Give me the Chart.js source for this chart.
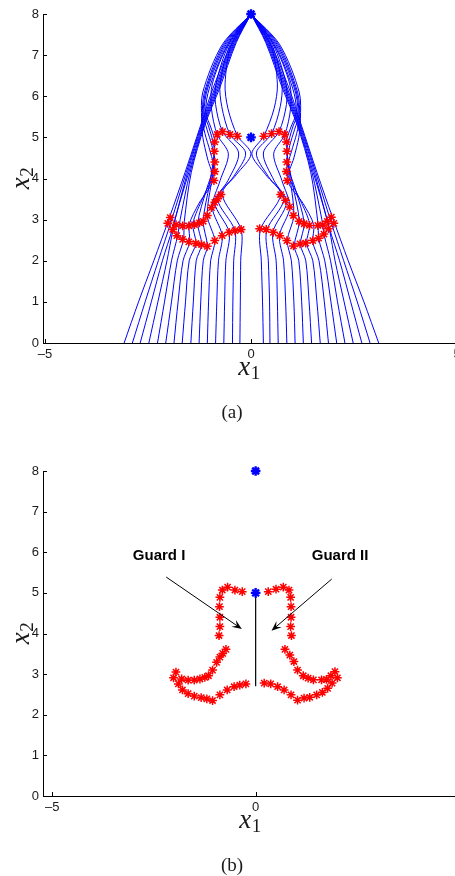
<!DOCTYPE html>
<html>
<head>
<meta charset="utf-8">
<script src="https://cdn.jsdelivr.net/npm/chart.js@4.4.1/dist/chart.umd.min.js"></script>
<style>
  html, body { margin: 0; padding: 0; background: #fff; overflow: hidden; width: 455px; height: 876px; }
  canvas { position: absolute; left: 0; }
  #chartA { top: 0; }
  #chartB { top: 440px; }
</style>
</head>
<body>
<canvas id="chartA" width="470" height="440"></canvas>
<canvas id="chartB" width="470" height="436"></canvas>
<script>
// axis ticks
const xTicks = [-5, 0, 5];
const yTicks = [0, 1, 2, 3, 4, 5, 6, 7, 8];

// blue trajectories, left half, outer -> inner, [x1, x2]
const leftPaths = [
  [[-3.08,0],[-2.73,1],[-2.36,2],[-1.98,3.05],[-1.60,4.15],[-1.22,5.3],[-0.92,6.2],[-0.46,7.3],[0,8]],
  [[-2.88,0],[-2.57,1],[-2.25,2],[-1.94,2.95],[-1.57,4.15],[-1.20,5.3],[-0.88,6.2],[-0.44,7.3],[0,8]],
  [[-2.69,0],[-2.42,1],[-2.15,2],[-1.90,2.8],[-1.54,4.15],[-1.18,5.3],[-0.85,6.2],[-0.42,7.3],[0,8]],
  [[-2.48,0],[-2.26,1],[-2.04,2],[-1.90,2.73],[-1.82,3.1],[-1.51,4.15],[-1.16,5.3],[-0.82,6.2],[-0.40,7.3],[0,8]],
  [[-2.27,0],[-2.10,1],[-1.93,2],[-1.78,2.61],[-1.72,3.0],[-1.48,4.15],[-1.14,5.3],[-0.79,6.2],[-0.38,7.3],[0,8]],
  [[-2.07,0],[-1.93,1],[-1.79,2],[-1.64,2.51],[-1.62,2.95],[-1.45,4.15],[-1.12,5.3],[-0.76,6.2],[-0.36,7.3],[0,8]],
  [[-1.87,0],[-1.77,1],[-1.65,2],[-1.49,2.45],[-1.50,2.88],[-1.26,3.4],[-0.93,3.95],[-1.06,4.5],[-1.17,5.0],[-1.20,5.45],[-1.17,6.1],[-0.70,7.25],[0,8]],
  [[-1.67,0],[-1.59,1],[-1.50,2],[-1.34,2.42],[-1.41,2.90],[-1.16,3.55],[-0.89,4.17],[-0.99,4.65],[-1.12,5.1],[-1.18,5.5],[-1.13,6.1],[-0.67,7.25],[0,8]],
  [[-1.46,0],[-1.40,1],[-1.33,2],[-1.20,2.40],[-1.29,2.92],[-1.09,3.7],[-0.88,4.40],[-0.95,4.8],[-1.07,5.2],[-1.16,5.55],[-1.09,6.15],[-0.64,7.25],[0,8]],
  [[-1.26,0],[-1.22,1],[-1.16,2],[-1.06,2.36],[-1.16,2.96],[-1.01,3.85],[-0.89,4.66],[-0.95,5.0],[-1.04,5.3],[-1.14,5.6],[-1.05,6.2],[-0.61,7.25],[0,8]],
  [[-1.06,0],[-1.03,1],[-0.98,2],[-0.88,2.49],[-1.06,3.10],[-0.95,4.0],[-0.88,4.89],[-0.96,5.2],[-1.10,5.62],[-1.01,6.2],[-0.58,7.25],[0,8]],
  [[-0.86,0],[-0.83,1],[-0.79,2],[-0.70,2.61],[-0.94,3.30],[-0.75,3.95],[-0.55,4.6],[-0.82,5.07],[-0.96,5.7],[-0.94,6.3],[-0.56,7.25],[0,8]],
  [[-0.66,0],[-0.64,1],[-0.61,2],[-0.53,2.69],[-0.88,3.42],[-0.56,3.95],[-0.30,4.62],[-0.69,5.14],[-0.86,5.8],[-0.85,6.3],[-0.54,7.25],[0,8]],
  [[-0.45,0],[-0.44,1],[-0.42,2],[-0.39,2.73],[-0.81,3.51],[-0.42,4.05],[-0.13,4.62],[-0.51,5.07],[-0.71,5.75],[-0.75,6.3],[-0.51,7.25],[0,8]],
  [[-0.27,0],[-0.26,1],[-0.25,2],[-0.24,2.76],[-0.70,3.62],[-0.35,4.1],[0.0,4.6],[-0.33,5.04],[-0.56,5.7],[-0.63,6.3],[-0.48,7.25],[0,8]]
];

// blue trajectories, right half, outer -> inner
const rightPaths = [
  [[3.10,0],[2.74,1],[2.36,2],[1.98,3.05],[1.60,4.15],[1.22,5.3],[0.92,6.2],[0.46,7.3],[0,8]],
  [[2.89,0],[2.58,1],[2.25,2],[1.94,2.95],[1.57,4.15],[1.20,5.3],[0.88,6.2],[0.44,7.3],[0,8]],
  [[2.69,0],[2.42,1],[2.15,2],[1.90,2.8],[1.54,4.15],[1.18,5.3],[0.85,6.2],[0.42,7.3],[0,8]],
  [[2.48,0],[2.26,1],[2.04,2],[1.91,2.73],[1.82,3.1],[1.51,4.15],[1.16,5.3],[0.82,6.2],[0.40,7.3],[0,8]],
  [[2.28,0],[2.10,1],[1.93,2],[1.78,2.61],[1.72,3.0],[1.48,4.15],[1.14,5.3],[0.79,6.2],[0.38,7.3],[0,8]],
  [[2.08,0],[1.94,1],[1.79,2],[1.65,2.51],[1.62,2.95],[1.45,4.15],[1.12,5.3],[0.76,6.2],[0.36,7.3],[0,8]],
  [[1.88,0],[1.78,1],[1.65,2],[1.50,2.45],[1.52,2.88],[1.26,3.4],[0.89,3.95],[1.04,4.5],[1.16,5.0],[1.20,5.45],[1.17,6.1],[0.70,7.25],[0,8]],
  [[1.68,0],[1.60,1],[1.50,2],[1.35,2.42],[1.42,2.90],[1.16,3.55],[0.87,4.17],[0.98,4.65],[1.11,5.1],[1.18,5.5],[1.13,6.1],[0.67,7.25],[0,8]],
  [[1.47,0],[1.41,1],[1.33,2],[1.20,2.40],[1.29,2.92],[1.09,3.7],[0.87,4.40],[0.94,4.8],[1.06,5.2],[1.16,5.55],[1.09,6.15],[0.64,7.25],[0,8]],
  [[1.27,0],[1.23,1],[1.16,2],[1.05,2.36],[1.17,2.96],[1.01,3.85],[0.87,4.66],[0.94,5.0],[1.03,5.3],[1.14,5.6],[1.05,6.2],[0.61,7.25],[0,8]],
  [[1.07,0],[1.04,1],[0.98,2],[0.88,2.49],[1.04,3.10],[0.95,4.0],[0.86,4.89],[0.95,5.2],[1.10,5.62],[1.01,6.2],[0.58,7.25],[0,8]],
  [[0.87,0],[0.84,1],[0.79,2],[0.69,2.61],[0.94,3.30],[0.75,3.95],[0.55,4.6],[0.82,5.07],[0.96,5.7],[0.94,6.3],[0.56,7.25],[0,8]],
  [[0.66,0],[0.64,1],[0.61,2],[0.53,2.69],[0.86,3.42],[0.56,3.95],[0.30,4.62],[0.68,5.14],[0.86,5.8],[0.85,6.3],[0.54,7.25],[0,8]],
  [[0.46,0],[0.45,1],[0.42,2],[0.38,2.73],[0.80,3.51],[0.42,4.05],[0.13,4.62],[0.50,5.09],[0.71,5.75],[0.75,6.3],[0.51,7.25],[0,8]],
  [[0.30,0],[0.28,1],[0.25,2],[0.23,2.76],[0.72,3.61],[0.35,4.1],[0.02,4.6],[0.31,5.03],[0.56,5.7],[0.64,6.3],[0.48,7.25],[0,8]]
];

// red star markers (same in both panels)
const redStarX = [
  -0.82,-0.69,-0.51,-0.33, -0.88,-0.89,-0.88,-0.88,-0.90,
  -0.73,-0.81,-0.88,-0.96,-1.06,-1.16,-1.25,-1.37,-1.51,-1.66,-1.82,-2.02,-1.96,
  -1.90,-1.80,-1.66,-1.51,-1.34,-1.20,-1.06,-0.88,-0.70,-0.53,-0.39,-0.24,
  0.31,0.50,0.68,0.82, 0.86,0.87,0.87,0.86,0.88,
  0.72,0.84,0.94,1.03,1.17,1.29,1.42,1.62,1.74,1.85,1.95,2.01,
  1.88,1.77,1.64,1.50,1.33,1.19,1.03,0.87,0.70,0.54,0.37,0.21
];
const redStarY = [
  5.07,5.14,5.07,5.03, 4.89,4.66,4.40,4.17,3.95,
  3.61,3.51,3.42,3.29,3.10,2.96,2.92,2.88,2.85,2.85,2.88,2.91,3.05,
  2.76,2.61,2.52,2.46,2.42,2.39,2.35,2.49,2.61,2.69,2.73,2.76,
  5.03,5.09,5.14,5.07, 4.89,4.66,4.40,4.17,3.95,
  3.61,3.47,3.31,3.10,2.96,2.90,2.86,2.86,2.87,2.96,3.06,2.91,
  2.78,2.65,2.55,2.49,2.43,2.41,2.36,2.49,2.61,2.69,2.76,2.78
];

// blue star markers: target and top of the guard wall
const blueStarX = [0, 0];
const blueStarY = [8, 5];

// guard wall in panel (b)
const wallX = [0, 0];
const wallY = [2.7, 5.0];

// annotations in panel (b)
const guardText = ['Guard I', 'Guard II'];
const guardTextX = [-3.02, 1.38];
const guardTextY = [5.8, 5.8];
const arrowFromX = [-2.20, 1.87];
const arrowFromY = [5.39, 5.34];
const arrowToX = [-0.34, 0.39];
const arrowToY = [4.11, 4.07];

const TEXT = '#1a1a1a';

function toPoints(xs, ys) {
  return xs.map((x, i) => ({ x: x, y: ys[i] }));
}

function pathToPoints(path) {
  return path.map(p => ({ x: p[0], y: p[1] }));
}

// "x" with a subscript, roughly like the LaTeX labels
function drawSubLabel(ctx, cx, base, sub) {
  ctx.font = 'italic 27px "Liberation Serif"';
  const w1 = ctx.measureText('x').width;
  ctx.font = '19px "Liberation Serif"';
  const w2 = ctx.measureText(sub).width;
  const x = cx - (w1 + w2) / 2;
  ctx.textAlign = 'left';
  ctx.textBaseline = 'alphabetic';
  ctx.font = 'italic 27px "Liberation Serif"';
  ctx.fillText('x', x, base);
  ctx.font = '19px "Liberation Serif"';
  ctx.fillText(sub, x + w1 + 0.5, base + 4);
}

function drawArrow(ctx, x0, y0, x1, y1) {
  const a = Math.atan2(y1 - y0, x1 - x0);
  const c = Math.cos(a), s = Math.sin(a);
  const len = 10, half = 4;
  ctx.beginPath();
  ctx.moveTo(x0, y0);
  ctx.lineTo(x1 - c * 6, y1 - s * 6);
  ctx.stroke();
  ctx.beginPath();
  ctx.moveTo(x1, y1);
  ctx.lineTo(x1 - len * c + half * s, y1 - len * s - half * c);
  ctx.lineTo(x1 - 0.6 * len * c, y1 - 0.6 * len * s);
  ctx.lineTo(x1 - len * c - half * s, y1 - len * s + half * c);
  ctx.closePath();
  ctx.fill();
}

// inward tick marks, axis labels, panel label, annotations
const decorPlugin = {
  id: 'decor',
  afterDraw(chart, args, opts) {
    const ctx = chart.ctx;
    const xs = chart.scales.x, ys = chart.scales.y;
    const area = chart.chartArea;
    ctx.save();
    ctx.strokeStyle = '#000';
    ctx.lineWidth = 1;
    ctx.beginPath();
    xs.ticks.forEach(t => {
      const px = Math.round(xs.getPixelForValue(t.value)) + 0.5;
      ctx.moveTo(px, area.bottom);
      ctx.lineTo(px, area.bottom - 4);
    });
    ys.ticks.forEach(t => {
      const py = Math.round(ys.getPixelForValue(t.value)) + 0.5;
      ctx.moveTo(area.left, py);
      ctx.lineTo(area.left + 4, py);
    });
    ctx.stroke();

    ctx.fillStyle = TEXT;
    const cx = (area.left + area.right) / 2 - 1;
    drawSubLabel(ctx, cx, area.bottom + 32, '1');
    ctx.save();
    ctx.translate(29, (area.top + area.bottom) / 2);
    ctx.rotate(-Math.PI / 2);
    drawSubLabel(ctx, 0, 0, '2');
    ctx.restore();

    ctx.font = '19px "Liberation Serif"';
    ctx.textAlign = 'center';
    ctx.textBaseline = 'alphabetic';
    ctx.fillText(opts.panel, 232, area.bottom + 75);

    if (opts.guards) {
      ctx.fillStyle = '#000';
      ctx.font = 'bold 15px "Liberation Sans"';
      ctx.textAlign = 'left';
      guardText.forEach((g, i) => {
        ctx.fillText(g, xs.getPixelForValue(guardTextX[i]), ys.getPixelForValue(guardTextY[i]));
      });
      ctx.strokeStyle = '#000';
      ctx.lineWidth = 1;
      for (let i = 0; i < arrowFromX.length; i++) {
        drawArrow(ctx,
          xs.getPixelForValue(arrowFromX[i]), ys.getPixelForValue(arrowFromY[i]),
          xs.getPixelForValue(arrowToX[i]), ys.getPixelForValue(arrowToY[i]));
      }
    }
    ctx.restore();
  }
};

function makeChart(id, cfg) {
  const datasets = [];
  datasets.push({
    data: toPoints(blueStarX, blueStarY),
    pointStyle: 'star', pointRadius: 4.8, pointBorderWidth: 2.4,
    pointBorderColor: '#0000ff', pointBackgroundColor: '#0000ff',
    showLine: false, clip: false, order: 1
  });
  datasets.push({
    data: toPoints(redStarX, redStarY),
    pointStyle: 'star', pointRadius: 4.4, pointBorderWidth: 1.5,
    pointBorderColor: '#ff0000', pointBackgroundColor: '#ff0000',
    showLine: false, clip: false, order: 2
  });
  if (cfg.paths) {
    leftPaths.concat(rightPaths).forEach(p => {
      datasets.push({
        data: pathToPoints(p),
        showLine: true, pointRadius: 0, borderColor: '#0000ff', borderWidth: 1,
        tension: 0.3, clip: false, order: 3
      });
    });
  }
  if (cfg.wall) {
    datasets.push({
      data: toPoints(wallX, wallY),
      showLine: true, pointRadius: 0, borderColor: '#000', borderWidth: 1.2,
      clip: false, order: 3
    });
  }

  return new Chart(document.getElementById(id), {
    type: 'scatter',
    data: { datasets: datasets },
    options: {
      responsive: false,
      animation: false,
      devicePixelRatio: 1,
      events: [],
      layout: { padding: { left: 0, top: cfg.top, right: cfg.right, bottom: 0 } },
      plugins: { legend: { display: false }, tooltip: { enabled: false }, decor: { panel: cfg.panel, guards: cfg.guards } },
      scales: {
        x: {
          type: 'linear', min: cfg.xmin, max: 5,
          grid: { display: false, drawTicks: false },
          border: { display: true, color: '#000', width: 1 },
          ticks: {
            autoSkip: false, padding: 4, color: TEXT,
            font: { family: '"Liberation Sans"', size: 13 },
            callback: v => (v < 0 ? '\u2013' + (-v) : String(v))
          },
          afterBuildTicks: s => { s.ticks = xTicks.map(v => ({ value: v })); },
          afterFit: s => { s.height = cfg.xh; }
        },
        y: {
          type: 'linear', min: 0, max: 8,
          grid: { display: false, drawTicks: false },
          border: { display: true, color: '#000', width: 1 },
          ticks: {
            autoSkip: false, padding: 4, color: TEXT,
            font: { family: '"Liberation Sans"', size: 13 }
          },
          afterBuildTicks: s => { s.ticks = yTicks.map(v => ({ value: v })); },
          afterFit: s => { s.width = 43; }
        }
      }
    },
    plugins: [decorPlugin]
  });
}

makeChart('chartA', { paths: true, wall: false, guards: false, panel: '(a)', top: 14, right: 13, xh: 97, xmin: -5.049 });
makeChart('chartB', { paths: false, wall: true, guards: true, panel: '(b)', top: 31, right: 11, xh: 80, xmin: -5.229 });
</script>
</body>
</html>
